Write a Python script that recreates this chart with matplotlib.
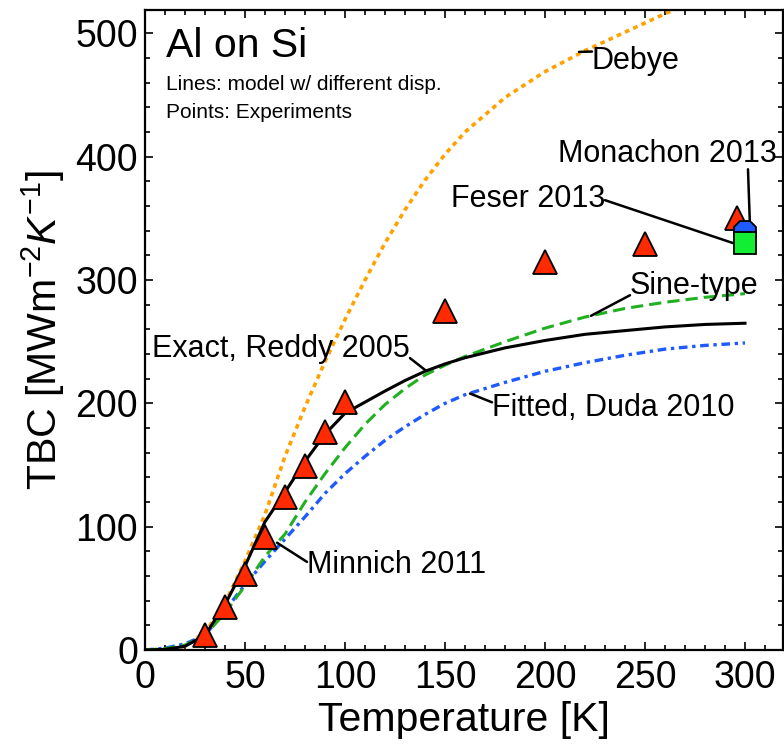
import matplotlib
matplotlib.use('Agg')
import matplotlib.pyplot as plt
from matplotlib.ticker import MultipleLocator

plt.rcParams['font.family'] = ['Liberation Sans', 'DejaVu Sans']
plt.rcParams['mathtext.fontset'] = 'custom'
plt.rcParams['mathtext.rm'] = 'Liberation Sans'
plt.rcParams['mathtext.it'] = 'Liberation Sans:italic'

# Model TBC [MW m^-2 K^-1] vs temperature [K] for different dispersions
temp_model = [0, 10, 20, 30, 40, 50, 60, 70, 80, 90, 100, 110, 120, 130, 140,
              150, 160, 180, 200, 220, 240, 260, 280, 300]
tbc_debye = [0, 0.5, 3, 14, 38, 72, 110, 157, 197, 234, 268, 300, 330, 357, 381,
             402, 420, 448, 469, 486, 501, 516, 530, 542]
tbc_exact = [0, 0.5, 3, 12, 37, 68, 104, 128, 153, 175, 192, 201, 210, 218.5, 226,
             232, 237, 245, 251, 256, 259, 262, 264, 265]
tbc_sine = [0, 1, 4, 12, 30, 52, 76, 94, 120, 143, 164, 183, 199, 212, 223,
            231, 238, 250, 261, 270, 277, 282, 286, 289]
tbc_fitted = [0, 1.5, 5, 12, 32, 53, 72, 90, 108, 127, 143, 157, 170, 181, 191,
              200, 207, 217, 226, 233, 239, 244, 247, 249]

# Experiments
minnich_T = [30, 40, 50, 60, 70, 80, 90, 100, 150, 200, 250, 296]
minnich_tbc = [12, 35, 62, 92, 124, 149, 177, 201, 275, 315, 329, 350]
monachon_T = [300]
monachon_tbc = [339]
feser_T = [300]
feser_tbc = [330]

fig = plt.figure(figsize=(7.84, 7.47), dpi=100)
ax = fig.add_axes([145 / 784, 97 / 747, 638 / 784, 640 / 747])

ax.plot(temp_model, tbc_debye, color='#ffa200', lw=2.6, dashes=(1.3, 1.2), zorder=2)
ax.plot(temp_model, tbc_fitted, color='#1f5aff', lw=2.4, dashes=(2.6, 1.4, 1.0, 1.4), zorder=2)
ax.plot(temp_model, tbc_sine, color='#20b020', lw=2.2, dashes=(4, 2), zorder=2)
ax.plot(temp_model, tbc_exact, color='black', lw=2.2, zorder=3)

ax.plot(minnich_T, minnich_tbc, ls='none', marker='^', ms=17, mfc='#ff2a00',
        mec='black', mew=1.3, zorder=4)
ax.plot(monachon_T, monachon_tbc, ls='none', marker='8', ms=17, mfc='#1f5aff',
        mec='black', mew=1.3, zorder=5)
ax.plot(feser_T, feser_tbc, ls='none', marker='s', ms=16, mfc='#11ee33',
        mec='black', mew=1.3, zorder=6)

ax.set_xlim(0, 319)
ax.set_ylim(0, 519)
ax.xaxis.set_major_locator(MultipleLocator(50))
ax.xaxis.set_minor_locator(MultipleLocator(10))
ax.yaxis.set_major_locator(MultipleLocator(100))
ax.yaxis.set_minor_locator(MultipleLocator(20))
ax.tick_params(which='both', direction='in', top=True, right=True, width=1.2)
ax.tick_params(which='major', length=6, labelsize=27)
ax.tick_params(axis='x', which='major', pad=7)
ax.tick_params(axis='y', which='major', pad=5)
ax.tick_params(which='minor', length=3.6)
for sp in ax.spines.values():
    sp.set_linewidth(1.6)

ax.set_xlabel('Temperature [K]', fontsize=29.5, labelpad=4)
ax.set_ylabel(r'TBC [MWm$^{-2}K^{-1}$]', fontsize=29.5, labelpad=6)

ax.text(10.75, 490, 'Al on Si', fontsize=29.5, ha='left', va='center')
ax.text(10.75, 458.5, 'Lines: model w/ different disp.', fontsize=15, ha='left', va='center')
ax.text(10.75, 436, 'Points: Experiments', fontsize=15, ha='left', va='center')


def lead(rel):
    return dict(arrowstyle='-', color='black', lw=1.8, shrinkA=0, shrinkB=0,
                patchA=None, relpos=rel)


# labels with leader lines
ax.annotate('Debye', xy=(217, 485), xytext=(223.5, 478), fontsize=22,
            ha='left', va='center', arrowprops=lead((0, 0.8)))
ax.annotate('Monachon 2013', xy=(302.5, 343), xytext=(261, 402), fontsize=22,
            ha='center', va='center', arrowprops=lead((0.87, 0)))
ax.annotate('Feser 2013', xy=(294, 330), xytext=(230, 366), fontsize=22,
            ha='right', va='center', arrowprops=lead((1, 0.45)))
ax.annotate('Sine-type', xy=(223, 271), xytext=(242.5, 295), fontsize=22,
            ha='left', va='center', arrowprops=lead((0, 0.2)))
ax.annotate('Exact, Reddy 2005', xy=(140.5, 226.5), xytext=(132.5, 244), fontsize=22,
            ha='right', va='center', arrowprops=lead((1, 0.2)))
ax.annotate('Fitted, Duda 2010', xy=(162.5, 208), xytext=(173.5, 196), fontsize=22,
            ha='left', va='center', arrowprops=lead((0, 0.7)))
ax.annotate('Minnich 2011', xy=(66, 87), xytext=(81, 69), fontsize=22,
            ha='left', va='center', arrowprops=lead((0, 0.6)))

fig.savefig('out.png', dpi=100)
